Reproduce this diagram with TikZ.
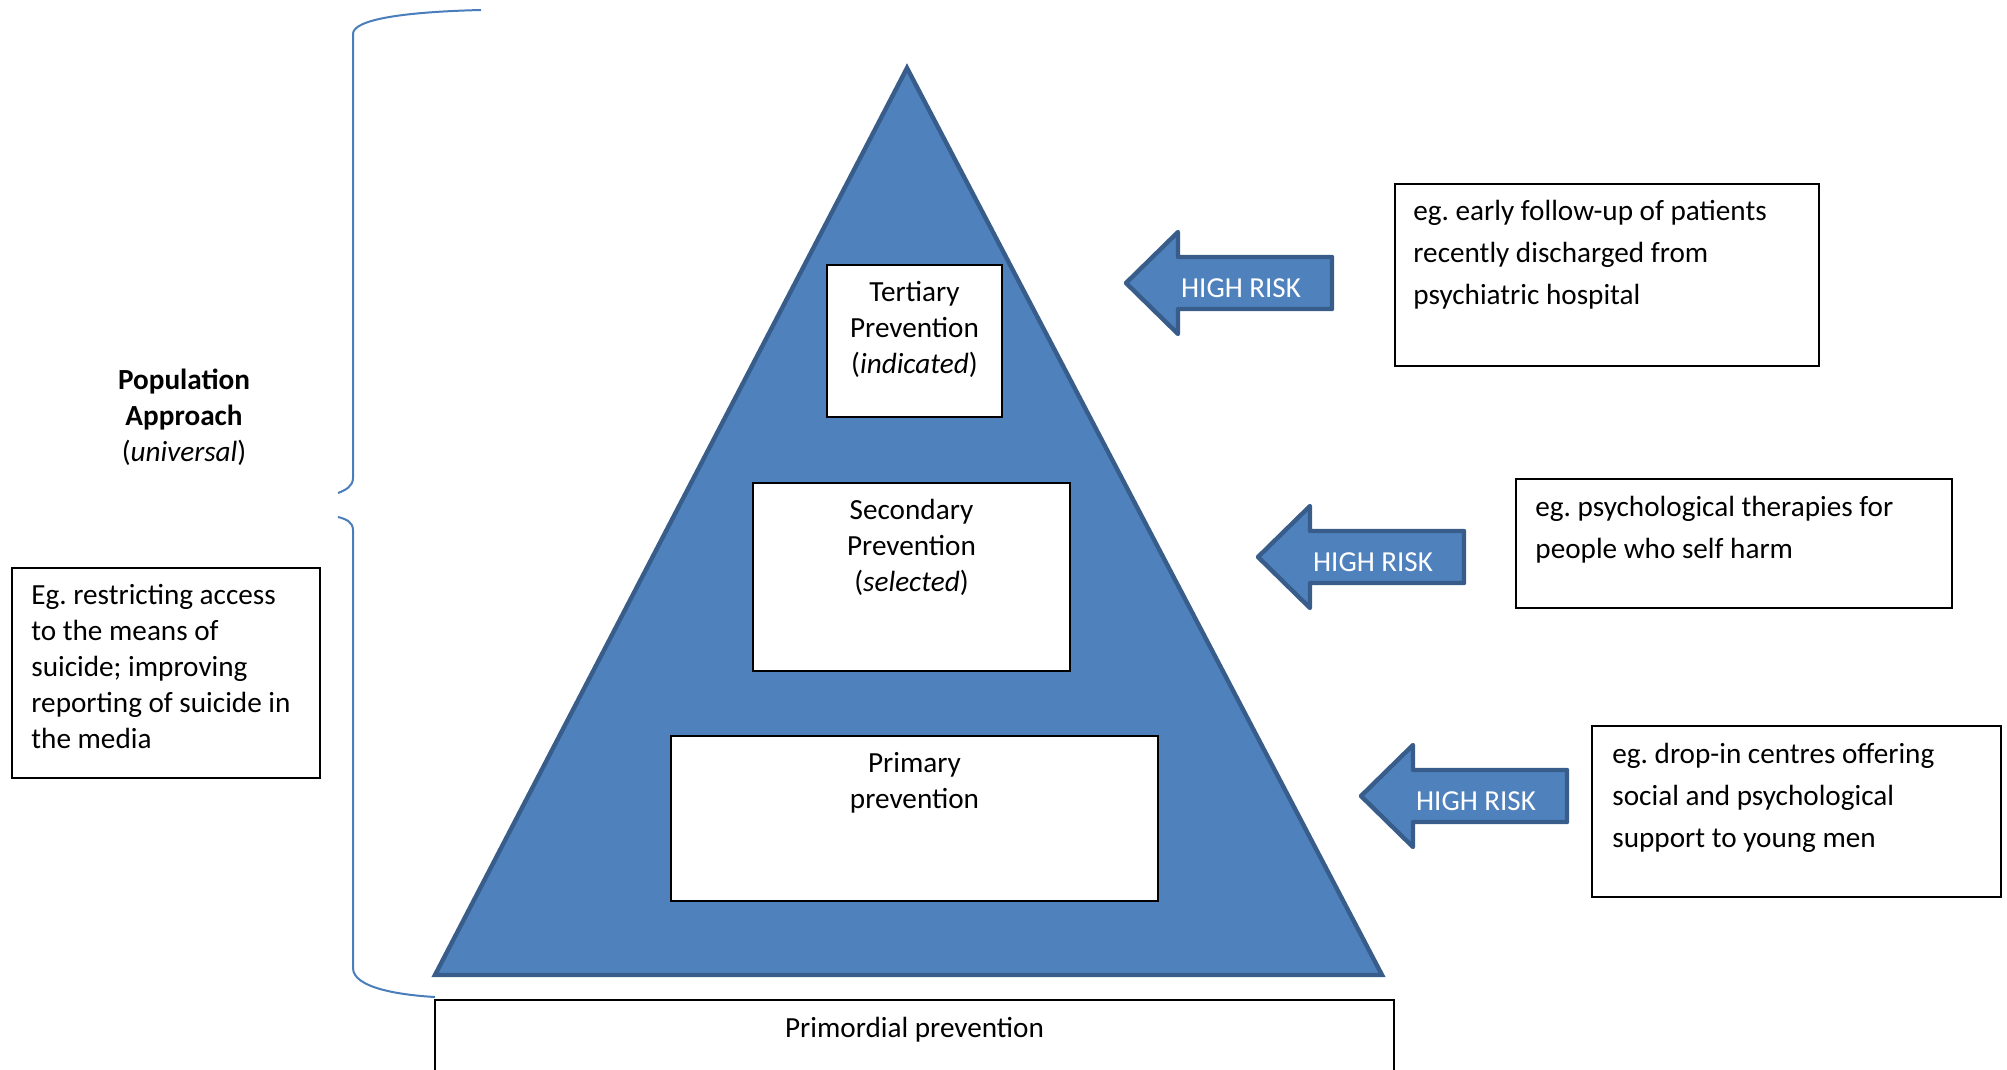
\documentclass[tikz,border=0pt]{standalone}
\usepackage{fontspec}
\setmainfont{Carlito}
\usetikzlibrary{calc}
\definecolor{pyrblue}{HTML}{4F81BD}
\definecolor{pyredge}{HTML}{385D8A}
\definecolor{braceblue}{HTML}{4A7EBB}
\frenchspacing

\begin{document}
\begin{tikzpicture}[x=0.5pt, y=-0.5pt,
  box/.style={draw=black, line width=1pt, fill=white, inner sep=0pt},
  boxtext/.style={font=\fontsize{14.6}{18}\selectfont, align=center, anchor=north, inner sep=0pt},
  notetext/.style={font=\fontsize{14.6}{21}\selectfont, align=left, anchor=north west, inner sep=0pt},
  riskarrow/.style={fill=pyrblue, draw=pyredge, line width=2.2pt, line join=round},
  risktext/.style={font=\fontsize{14.5}{17}\selectfont, text=white, inner sep=0pt},
  brace/.style={draw=braceblue, line width=1pt}]
  \useasboundingbox (0,0) rectangle (2007,1070);
  \clip (0,0) rectangle (2007,1070);

  % the pyramid
  \draw[fill=pyrblue, draw=pyredge, line width=2.2pt] (907,68) -- (1382,975) -- (435,975) -- cycle;

  % levels
  \node[box, minimum width=87.5pt, minimum height=76pt] (ter) at (914.5,341) {};
  \node[boxtext] (tertxt) at ($(ter.north)+(0,17)$) {Tertiary\\Prevention\\(\textit{indicated})};
  \node[box, minimum width=158.5pt, minimum height=94pt] (sec) at (911.5,577) {};
  \node[boxtext] (sectxt) at ($(sec.north)+(0,17)$) {Secondary\\Prevention\\(\textit{selected})};
  \node[box, minimum width=243.5pt, minimum height=82.5pt] (pri) at (914.5,818.5) {};
  \node[boxtext] (pritxt) at ($(pri.north)+(0,17)$) {Primary\\prevention};
  \node[box, minimum width=479.5pt, minimum height=50pt] (prim) at (914.5,1050) {};
  \node[boxtext] (primtxt) at ($(prim.north)+(0,18)$) {Primordial prevention};

  % high risk arrows
  \draw[riskarrow] (1126,283) -- (1178,232) -- (1178,257) -- (1332,257) -- (1332,309) -- (1178,309) -- (1178,334) -- cycle;
  \node[risktext] (riska) at (1241,288) {HIGH RISK};
  \draw[riskarrow] (1258,557) -- (1310,506) -- (1310,531) -- (1464,531) -- (1464,583) -- (1310,583) -- (1310,608) -- cycle;
  \node[risktext] (riskb) at (1373,562) {HIGH RISK};
  \draw[riskarrow] (1361,796) -- (1413,745) -- (1413,770) -- (1567,770) -- (1567,822) -- (1413,822) -- (1413,847) -- cycle;
  \node[risktext] (riskc) at (1476,801) {HIGH RISK};

  % examples on the right
  \node[box, minimum width=212pt, minimum height=91pt] (exa) at (1607,275) {};
  \node[notetext] (exatxt) at ($(exa.north west)+(19,17)$) {eg. early follow-up of patients\\recently discharged from\\psychiatric hospital};
  \node[box, minimum width=218pt, minimum height=64.5pt] (exb) at (1734,543.5) {};
  \node[notetext] (exbtxt) at ($(exb.north west)+(20,18)$) {eg. psychological therapies for\\people who self harm};
  \node[box, minimum width=204.5pt, minimum height=85.5pt] (exc) at (1796.5,811.5) {};
  \node[notetext] (exctxt) at ($(exc.north west)+(21,18)$) {eg. drop-in centres offering\\social and psychological\\support to young men};

  % population side
  \draw[brace] (481,10) .. controls (400,12) and (353,20) .. (353,34) -- (353,478) .. controls (353,486) and (346,490) .. (338,493);
  \draw[brace] (338,517) .. controls (346,519) and (353,522) .. (353,530) -- (353,968) .. controls (353,988) and (400,995) .. (435,997);
  \node[boxtext] (pop) at (184,369) {\textbf{Population}\\\textbf{Approach}\\(\textit{universal})};
  \node[box, minimum width=154pt, minimum height=105pt] (univ) at (166,673) {};
  \node[boxtext, anchor=north west, align=left] (univtxt) at ($(univ.north west)+(20,17)$) {Eg. restricting access\\to the means of\\suicide; improving\\reporting of suicide in\\the media};
\end{tikzpicture}
\end{document}
